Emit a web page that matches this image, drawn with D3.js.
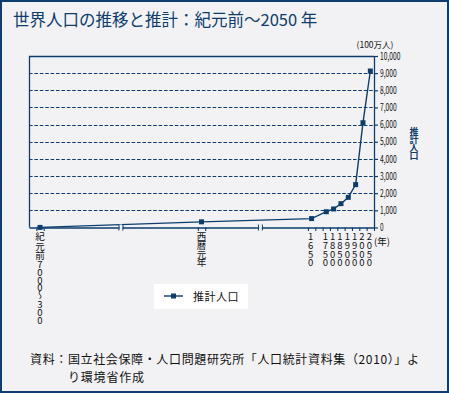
<!DOCTYPE html>
<html>
<head>
<meta charset="utf-8">
<script src="https://cdn.jsdelivr.net/npm/d3@7.9.0/dist/d3.min.js"></script>
<style>
  html, body { margin: 0; padding: 0; background: #f2f2f4; }
  svg { display: block; }
  text { font-family: "Noto Sans CJK JP", "Noto Sans", sans-serif; }
  .vert { writing-mode: vertical-rl; text-orientation: upright; }
</style>
</head>
<body>
<svg id="chart" width="449" height="393"></svg>
<script>
// categories on the x axis (the axis has 47 equal slots, most of them unlabelled)
const categoryLabels = ['紀元前7000〜300', '西暦元年', '1650', '1750', '1800', '1850', '1900', '1950', '2000', '2050'];
const categorySlots = [1, 23, 38, 40, 41, 42, 43, 44, 45, 46];
const slotCount = 47;
// estimated world population, millions
const population = [5, 330, 520, 920, 1080, 1390, 1760, 2500, 6110, 9125];
const yTicks = [0, 1000, 2000, 3000, 4000, 5000, 6000, 7000, 8000, 9000, 10000];
const breakSlots = [12, 31];

const navy = '#0d3d6e';
const ink = '#111';

const svg = d3.select('#chart');
const margin = { left: 29, right: 374, top: 56, bottom: 227.5 };

// frame round the whole picture
svg.append('rect')
  .attr('x', 1).attr('y', 1).attr('width', 447).attr('height', 391)
  .attr('fill', '#f2f2f4').attr('stroke', navy).attr('stroke-width', 2);

svg.append('text')
  .attr('x', 13).attr('y', 26)
  .attr('font-size', 16.5)
  .attr('fill', navy)
  .text('世界人口の推移と推計：紀元前〜2050 年');

const x = d3.scaleBand()
  .domain(d3.range(slotCount))
  .range([margin.left, margin.right])
  .paddingInner(0).paddingOuter(0);
const edge = d3.scaleLinear().domain([0, slotCount]).range([margin.left, margin.right]);
const y = d3.scaleLinear().domain([0, 10000]).range([margin.bottom, margin.top]);
const cx = s => x(s) + x.bandwidth() / 2;

// dashed gridlines
svg.append('g')
  .selectAll('line')
  .data(yTicks.filter(d => d > 0 && d < 10000))
  .join('line')
    .attr('x1', margin.left).attr('x2', margin.right)
    .attr('y1', d => Math.round(y(d)) + 0.5).attr('y2', d => Math.round(y(d)) + 0.5)
    .attr('stroke', navy).attr('stroke-width', 1.1)
    .attr('stroke-dasharray', '3.6,1.8');

// top and left frame of the plot
svg.append('path')
  .attr('d', `M${margin.left + 0.5},${margin.bottom}V${margin.top + 0.5}H${margin.right}`)
  .attr('fill', 'none').attr('stroke', navy).attr('stroke-width', 1.3);

// right value axis
const yAxis = svg.append('g')
  .attr('transform', `translate(${margin.right},0)`)
  .call(d3.axisRight(y).tickValues(yTicks).tickSize(4).tickSizeOuter(0).tickPadding(2).tickFormat(d3.format(',')));
yAxis.select('.domain').attr('stroke', navy).attr('stroke-width', 1.3);
yAxis.selectAll('.tick line').attr('stroke', navy).attr('stroke-width', 1.2);
yAxis.selectAll('.tick text')
  .attr('fill', ink)
  .attr('font-size', 10)
  .attr('font-family', 'DejaVu Sans')
  .attr('textLength', d => {
    const s = d3.format(',')(d);
    return s.replace(/,/g, '').length * 3.6 + (s.match(/,/g) || []).length * 2.4;
  })
  .attr('lengthAdjust', 'spacingAndGlyphs');

svg.append('text')
  .attr('x', 375).attr('y', 43.5)
  .attr('text-anchor', 'middle').attr('dominant-baseline', 'central')
  .attr('font-size', 8.5).attr('fill', ink)
  .text('(100万人)');

// right vertical series title
svg.append('text')
  .attr('class', 'vert')
  .attr('x', 414).attr('y', 127)
  .attr('font-size', 9).attr('font-weight', 700)
  .attr('letter-spacing', -1)
  .attr('fill', navy)
  .text('推計人口');

// bottom category axis: ticks at the edges of labelled slots
const edges = Array.from(new Set(categorySlots.flatMap(s => [s, s + 1]))).sort((a, b) => a - b);
const xAxis = svg.append('g')
  .attr('transform', `translate(0,${margin.bottom})`)
  .call(d3.axisBottom(edge).tickValues(edges).tickSize(3.5).tickSizeOuter(0).tickFormat(''));
xAxis.select('.domain').attr('stroke', navy).attr('stroke-width', 1.5);
xAxis.selectAll('.tick line').attr('stroke', navy).attr('stroke-width', 1.1);

// population line and markers
const points = categorySlots.map((s, i) => ({ slot: s, value: population[i] }));
svg.append('path')
  .datum(points)
  .attr('d', d3.line().x(d => cx(d.slot)).y(d => y(d.value)))
  .attr('fill', 'none').attr('stroke', navy).attr('stroke-width', 1.4);
svg.append('g')
  .selectAll('rect')
  .data(points)
  .join('rect')
    .attr('x', d => cx(d.slot) - 2.5).attr('y', d => y(d.value) - 2.5)
    .attr('width', 5).attr('height', 5)
    .attr('fill', navy);

// axis break marks
const brk = svg.append('g')
  .selectAll('g')
  .data(breakSlots)
  .join('g')
    .attr('transform', d => `translate(${cx(d)},${margin.bottom})`);
brk.append('rect').attr('x', -1.5).attr('y', -3).attr('width', 3).attr('height', 6).attr('fill', '#f2f2f4');
brk.append('path')
  .attr('d', 'M-2,-3 Q-1,0 -2,3 M2,-3 Q3,0 2,3')
  .attr('fill', 'none').attr('stroke', navy).attr('stroke-width', 1);

// vertical category labels, one text each, split into kanji / digit runs
const labelText = svg.append('g')
  .selectAll('text')
  .data(categoryLabels)
  .join('text')
    .attr('class', 'vert')
    .attr('x', (d, i) => cx(categorySlots[i]) - (i > 1 ? 1 : 0))
    .attr('y', 232)
    .attr('font-size', 9.5)
    .attr('fill', ink);
labelText.each(function(d, i) {
  const runs = d.match(/[^\x00-\xff]+|[\x00-\xff]+/g);
  const t = d3.select(this);
  runs.forEach(r => {
    const full = r.charCodeAt(0) > 0xff;
    t.append('tspan')
      .attr('letter-spacing', full ? (i === 0 ? -0.3 : -0.8) : (i === 0 ? -1.8 : -0.9))
      .text(r);
  });
});

svg.append('text')
  .attr('x', 374).attr('y', 241)
  .attr('dominant-baseline', 'central')
  .attr('font-size', 9.5).attr('fill', ink)
  .text('(年)');

// legend
const legend = svg.append('g').attr('transform', 'translate(154,284)');
legend.append('rect').attr('width', 94).attr('height', 25).attr('fill', '#fff');
legend.append('line').attr('x1', 10).attr('x2', 29).attr('y1', 12).attr('y2', 12)
  .attr('stroke', navy).attr('stroke-width', 1.4);
legend.append('rect').attr('x', 17).attr('y', 9.5).attr('width', 5).attr('height', 5).attr('fill', navy);
legend.append('text').attr('x', 39).attr('y', 12)
  .attr('dominant-baseline', 'central')
  .attr('font-size', 11).attr('fill', ink)
  .attr('letter-spacing', 0.5)
  .text('推計人口');

// source note
const note = svg.append('text')
  .attr('font-size', 12).attr('fill', ink);
note.append('tspan').attr('x', 30).attr('y', 364)
  .attr('textLength', 389).attr('lengthAdjust', 'spacing')
  .text('資料：国立社会保障・人口問題研究所「人口統計資料集（2010）」よ');
note.append('tspan').attr('x', 68).attr('y', 382)
  .attr('letter-spacing', 0.8)
  .text('り環境省作成');
</script>
</body>
</html>
